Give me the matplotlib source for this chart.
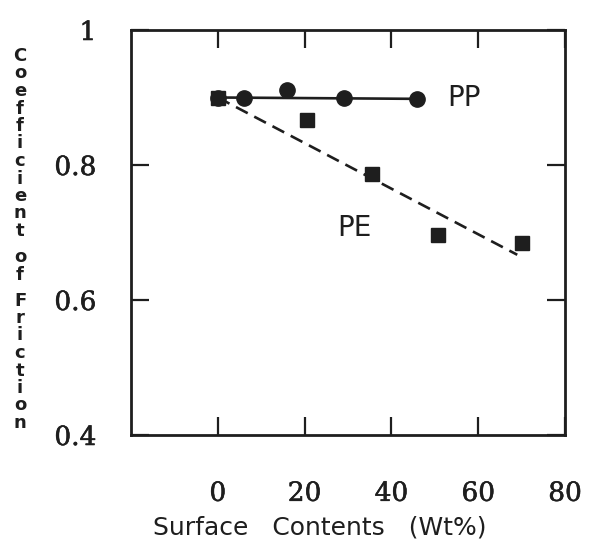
import matplotlib
matplotlib.use('Agg')
import matplotlib.pyplot as plt
import matplotlib.patheffects as pe

# data
pp_x = [0, 6, 16, 29, 46]
pp_y = [0.900, 0.900, 0.911, 0.899, 0.898]
pp_fit_x = [0, 46]
pp_fit_y = [0.900, 0.898]

pe_x = [0, 20.6, 35.5, 50.8, 70.1]
pe_y = [0.900, 0.866, 0.787, 0.696, 0.684]
pe_fit_x = [0, 69]
pe_fit_y = [0.900, 0.667]

x_ticks = [0, 20, 40, 60, 80]
y_ticks = [0.4, 0.6, 0.8, 1.0]
y_tick_labels = ['0.4', '0.6', '0.8', '1']

ink = '#1e1e1e'
thick = [pe.withStroke(linewidth=0.4, foreground=ink)]

fig = plt.figure(figsize=(5.95, 5.46), dpi=100)
ax = fig.add_axes([131 / 595, 1 - 435 / 546, 434 / 595, 405 / 546])

ax.plot(pp_fit_x, pp_fit_y, '-', color=ink, lw=1.9)
ax.plot(pe_fit_x, pe_fit_y, '--', color=ink, lw=1.9, dashes=(5, 2.8))
ax.plot(pp_x, pp_y, 'o', color=ink, ms=11)
ax.plot(pe_x, pe_y, 's', color=ink, ms=10.5)

ax.text(52.8, 0.899, 'PP', fontsize=20, color=ink, ha='left', va='center')
ax.text(27.6, 0.707, 'PE', fontsize=20, color=ink, ha='left', va='center')

ax.set_xlim(-20, 80)
ax.set_ylim(0.4, 1.0)
ax.set_xticks(x_ticks)
ax.set_yticks(y_ticks)
ax.set_yticklabels(y_tick_labels)

for s in ax.spines.values():
    s.set_linewidth(2)
    s.set_color(ink)

ax.tick_params(axis='both', direction='in', length=13, width=1.6, colors=ink,
               top=True, right=True)
ax.tick_params(axis='x', pad=33, labelsize=19)
ax.tick_params(axis='y', pad=25, labelsize=19)
for lab in ax.get_xticklabels() + ax.get_yticklabels():
    lab.set_family('DejaVu Serif')
    lab.set_path_effects(thick)

# x label
fig.text(320 / 595, 1 - 528 / 546, 'Surface   Contents   (Wt%)',
         fontsize=18, color=ink, ha='center', va='center')

# y label, letters stacked upright one by one
letters = 'Coefficient of Friction'
y = 56
step = 17.5
gap = 26
prev_space = False
for i, ch in enumerate(letters):
    if ch == ' ':
        prev_space = True
        continue
    if i > 0:
        y += gap if prev_space else step
    prev_space = False
    fig.text(20 / 595, 1 - y / 546, ch, fontsize=13, fontweight='bold',
             family=['Liberation Sans Narrow', 'DejaVu Sans'],
             color=ink, ha='center', va='center')

fig.savefig('out.png', dpi=100)
